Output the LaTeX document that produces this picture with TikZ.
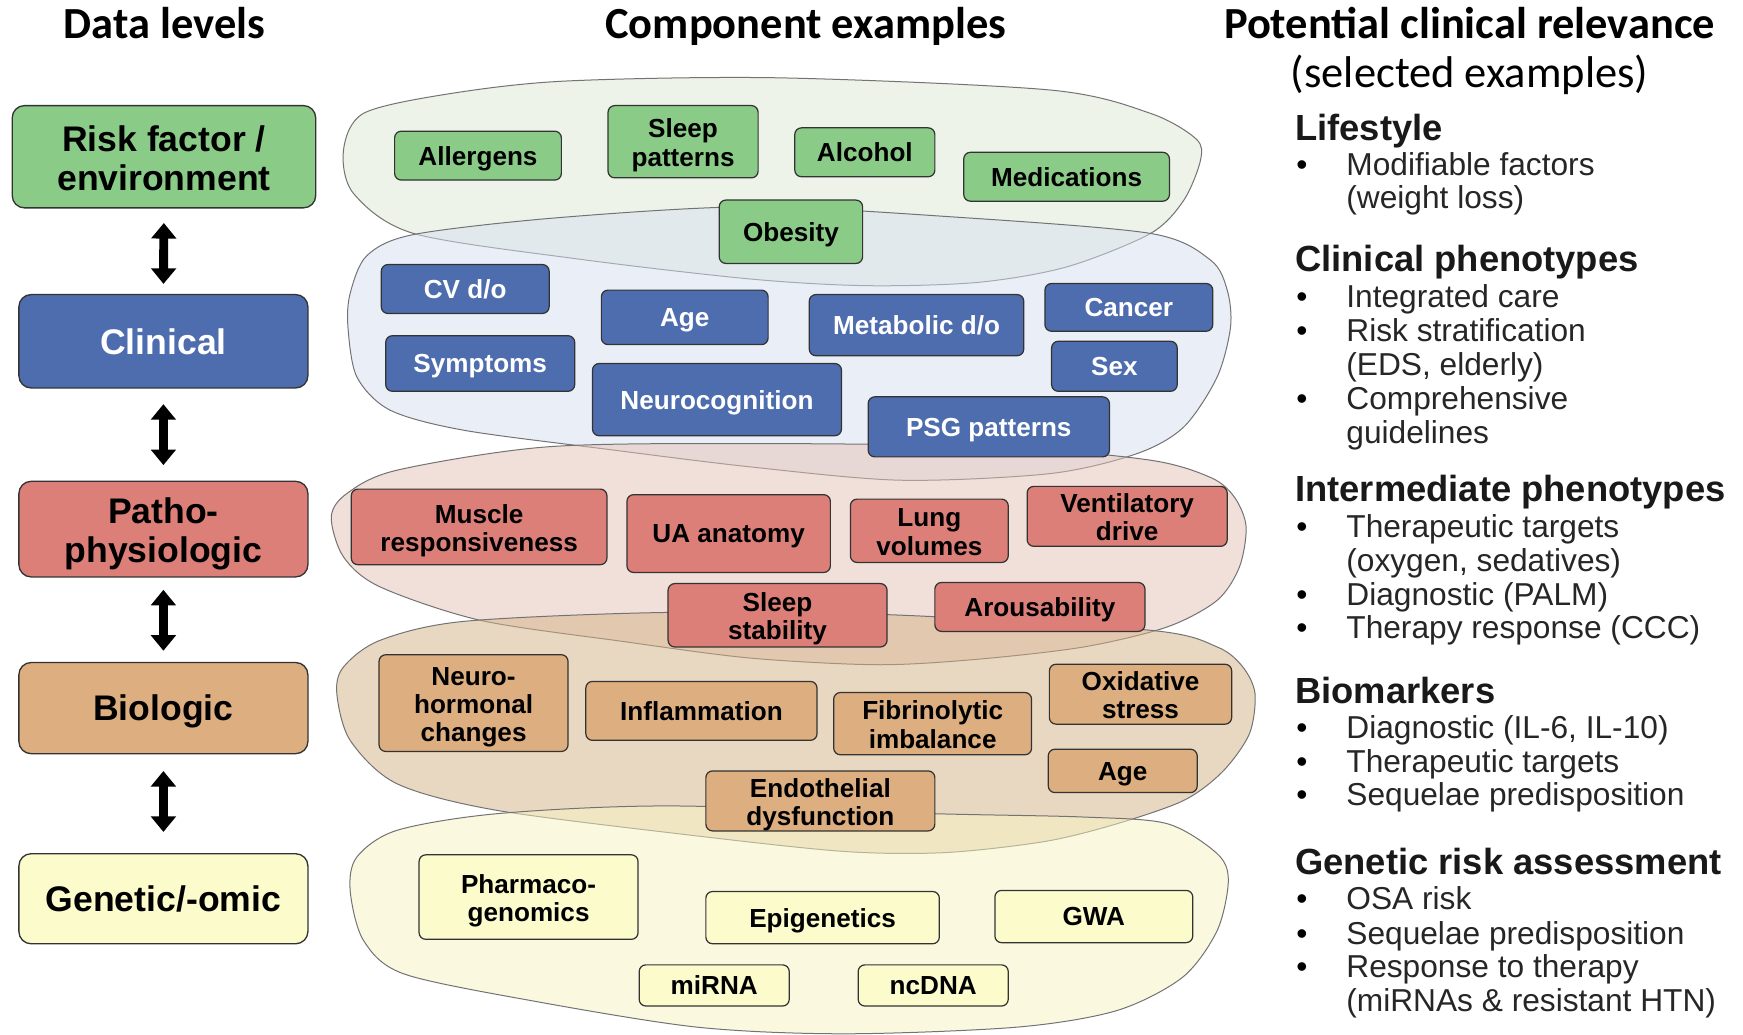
\documentclass[tikz,border=0pt]{standalone}
\usepackage{fontspec}
\setmainfont{Liberation Sans}
\newfontfamily\calfont{Carlito}
\usetikzlibrary{arrows.meta}

% colours of the five data levels
\definecolor{gbox}{HTML}{8BCB88}
\definecolor{bbox}{HTML}{4E6DAE}
\definecolor{rbox}{HTML}{DC7F78}
\definecolor{tbox}{HTML}{DCAE80}
\definecolor{ybox}{HTML}{FBFBCB}
% translucent backdrops behind the component examples
\definecolor{gblob}{HTML}{DDE9D3}
\definecolor{bblob}{HTML}{D7E1F1}
\definecolor{rblob}{HTML}{E5C1B5}
\definecolor{tblob}{HTML}{D5B385}
\definecolor{yblob}{HTML}{F7F5C3}
\definecolor{edge}{HTML}{333333}

\newcommand\lvlfont{\fontsize{32}{35}\selectfont\bfseries}
\newcommand\cmpfont{\fontsize{23.5}{25.5}\selectfont\bfseries}
\newcommand\colhead{\fontsize{40}{44}\selectfont\calfont\bfseries}
\newcommand\colsub{\fontsize{40}{44}\selectfont\calfont}
\newcommand\relhead{\fontsize{32.7}{36}\selectfont\bfseries}
\newcommand\reltext{\fontsize{28.5}{31}\selectfont}
% invisible struts so that labels sit centred on their capitals
\newcommand\lowstrut{\rule[-0.21em]{0pt}{0.21em}}
\newcommand\highstrut{\rule{0pt}{0.93em}}
\newcommand\topstrut{\rule{0pt}{1em}}

% component box: style, name, x1, y1, x2, y2, text
\newcommand\cb[7]{\node[cmp,#1,minimum width={#5-#3},minimum height={#6-#4}] (#2) at ({(#3+#5)/2},{(#4+#6)/2}) {#7};}
% right column: heading, bulleted line, continuation line
\newcommand\rh[3]{\node[anchor=base west,inner sep=0pt,font=\relhead,text=black!90] (#1) at (1165,#2+3) {#3};}
\newcommand\ri[3]{\node[anchor=base west,inner sep=0pt,font=\reltext] (#1b) at (1166,#2+3) {\textbullet};
  \node[anchor=base west,inner sep=0pt,font=\reltext,text=black!85] (#1) at (1211,#2+3) {#3};}
\newcommand\rc[3]{\node[anchor=base west,inner sep=0pt,font=\reltext,text=black!85] (#1) at (1211,#2+3) {#3};}

\begin{document}
\begin{tikzpicture}[x=1pt,y=-1pt,
  blob/.style={draw=black!55,line width=0.9pt,fill opacity=0.5},
  lvl/.style={draw=edge,line width=1.2pt,rounded corners=11pt,align=center,inner sep=0pt,font=\lvlfont,
    execute at begin node=\highstrut,execute at end node=\lowstrut},
  cmp/.style={draw=edge,line width=1.1pt,rounded corners=6pt,align=center,inner sep=0pt,font=\cmpfont,
    execute at begin node=\highstrut,execute at end node=\lowstrut},
  gc/.style={fill=gbox,text=black},
  bc/.style={fill=bbox,text=white},
  rc/.style={fill=rbox,text=black},
  tc/.style={fill=tbox,text=black},
  yc/.style={fill=ybox,text=black},
  dblarrow/.style={line width=8pt,{Triangle[width=22pt,length=14pt]}-{Triangle[width=22pt,length=14pt]}}]

\useasboundingbox (0,0) rectangle (1568,931);
\fill[white] (0,0) rectangle (1568,931);

% column headings
\node[anchor=base,inner sep=0pt,font=\colhead] (hdata) at (148,35) {Data levels};
\node[anchor=base,inner sep=0pt,font=\colhead] (hcomp) at (725,35) {Component examples};
\node[anchor=base,inner sep=0pt,font=\colhead] (hrel) at (1322,35) {Potential clinical relevance};
\node[anchor=base,inner sep=0pt,font=\colsub] (hsel) at (1322,79) {(selected examples)};

% data level boxes
\node[lvl,fill=gbox,minimum width=273,minimum height=92] (rf) at (147.5,141) {\topstrut Risk factor /\\environment};
\node[lvl,fill=bbox,text=white,minimum width=260,minimum height=84] (cl) at (147,307) {Clinical};
\node[lvl,fill=rbox,minimum width=260,minimum height=86] (pp) at (147,476) {\topstrut Patho-\\physiologic};
\node[lvl,fill=tbox,minimum width=260,minimum height=82] (bi) at (147,637) {Biologic};
\node[lvl,fill=ybox,minimum width=260,minimum height=81] (ge) at (147,808.5) {Genetic/-omic};

% links between levels
\draw[dblarrow,shorten <=13pt,shorten >=9pt] (rf.south) -- (cl.north);
\draw[dblarrow,shorten <=14pt,shorten >=14pt] (cl.south) -- (pp.north);
\draw[dblarrow,shorten <=11pt,shorten >=10pt] (pp.south) -- (bi.north);
\draw[dblarrow,shorten <=15pt,shorten >=19pt] (bi.south) -- (ge.north);

% overlapping backdrops, one per level
\filldraw[blob,fill=gblob] plot[smooth cycle,tension=0.5] coordinates {
  (309,135) (318,174) (372,210) (520,233) (675,251) (780,257) (880,254) (960,240)
  (1035,210) (1065,180) (1080,144) (1076,125) (1035,102) (945,81) (700,70)
  (507,73) (400,85) (327,102)};
\filldraw[blob,fill=bblob] plot[smooth cycle,tension=0.5] coordinates {
  (315,264) (313,294) (321,339) (351,369) (417,387) (545,404) (675,420)
  (810,432) (945,426) (1023,408) (1065,384) (1095,339) (1107,294) (1104,261)
  (1089,234) (1035,210) (855,195) (675,186) (500,196) (372,211) (330,230)};
\filldraw[blob,fill=rblob] plot[smooth cycle,tension=0.5] coordinates {
  (298,465) (309,501) (342,528) (432,558) (560,577) (675,592) (790,598) (880,593)
  (975,582) (1050,564) (1095,540) (1115,510) (1121,474) (1111,448) (1090,430)
  (1035,414) (900,402) (675,399) (492,402) (357,423) (312,444)};
\filldraw[blob,fill=tblob] plot[smooth cycle,tension=0.5] coordinates {
  (303,624) (315,666) (357,705) (447,729) (627,752) (760,766) (850,767)
  (940,757) (1005,741) (1065,720) (1100,694) (1124,660) (1129,624) (1118,600)
  (1095,582) (1035,567) (800,553) (597,551) (417,559) (342,576) (309,600)};
\filldraw[blob,fill=yblob] plot[smooth cycle,tension=0.5] coordinates {
  (315,801) (327,846) (363,876) (477,900) (627,924) (760,930) (915,924)
  (1005,909) (1064,879) (1095,837) (1105,792) (1095,768) (1050,741) (975,735)
  (840,732) (600,725) (447,732) (357,747) (321,771)};

% risk factor / environment examples
\cb{gc}{al}{355}{118}{505}{162}{Allergens}
\cb{gc}{sp}{547}{95}{682}{160}{\topstrut Sleep\\patterns}
\cb{gc}{alc}{715}{115}{841}{159}{Alcohol}
\cb{gc}{med}{867}{137}{1052}{181}{Medications}
\cb{gc}{ob}{647}{180}{776}{237}{Obesity}

% clinical examples
\cb{bc}{cv}{343}{238}{494}{282}{CV d/o}
\cb{bc}{agec}{541}{261}{691}{310}{Age}
\cb{bc}{met}{728}{265}{921}{320}{Metabolic d/o}
\cb{bc}{can}{940}{255}{1091}{298}{Cancer}
\cb{bc}{sym}{347}{302}{517}{352}{Symptoms}
\cb{bc}{sex}{946}{307}{1059}{352}{Sex}
\cb{bc}{neu}{533}{327}{757}{392}{Neurocognition}
\cb{bc}{psg}{781}{357}{998}{411}{PSG patterns}

% pathophysiologic examples
\cb{rc}{mus}{316}{440}{546}{508}{\topstrut Muscle\\responsiveness}
\cb{rc}{ua}{564}{445}{747}{515}{UA anatomy}
\cb{rc}{lung}{765}{449}{907}{506}{\topstrut Lung\\volumes}
\cb{rc}{vent}{924}{438}{1104}{491}{\topstrut Ventilatory\\drive}
\cb{rc}{sst}{601}{525}{798}{582}{\topstrut Sleep\\stability}
\cb{rc}{aro}{841}{524}{1030}{568}{Arousability}

% biologic examples
\cb{tc}{nh}{341}{589}{511}{676}{\topstrut Neuro-\\hormonal\\changes}
\cb{tc}{inf}{527}{613}{735}{666}{Inflammation}
\cb{tc}{fib}{750}{623}{928}{679}{\topstrut Fibrinolytic\\imbalance}
\cb{tc}{ox}{944}{598}{1108}{651}{\topstrut Oxidative\\stress}
\cb{tc}{ageb}{943}{674}{1077}{713}{Age}
\cb{tc}{endo}{635}{694}{841}{747}{\topstrut Endothelial\\dysfunction}

% genetic / omic examples
\cb{yc}{ph}{377}{769}{574}{845}{\topstrut Pharmaco-\\genomics}
\cb{yc}{epi}{635}{802}{845}{849}{Epigenetics}
\cb{yc}{gwa}{895}{801}{1073}{848}{GWA}
\cb{yc}{mir}{575}{868}{710}{905}{miRNA}
\cb{yc}{nc}{772}{868}{907}{905}{ncDNA}

% clinical relevance column
\rh{life}{123}{Lifestyle}
\ri{l1}{154.5}{Modifiable factors}
\rc{l1c}{184.5}{(weight loss)}

\rh{clph}{241}{Clinical phenotypes}
\ri{c1}{273.5}{Integrated care}
\ri{c2}{304.5}{Risk stratification}
\rc{c2c}{334.5}{(EDS, elderly)}
\ri{c3}{365.5}{Comprehensive}
\rc{c3c}{396}{guidelines}

\rh{inph}{448}{Intermediate phenotypes}
\ri{i1}{480.5}{Therapeutic targets}
\rc{i1c}{511.5}{(oxygen, sedatives)}
\ri{i2}{541.5}{Diagnostic (PALM)}
\ri{i3}{571.5}{Therapy response (CCC)}

\rh{biom}{630}{Biomarkers}
\ri{b1}{661}{Diagnostic (IL-6, IL-10)}
\ri{b2}{692}{Therapeutic targets}
\ri{b3}{722}{Sequelae predisposition}

\rh{gera}{784}{Genetic risk assessment}
\ri{g1}{815.5}{OSA risk}
\ri{g2}{846.5}{Sequelae predisposition}
\ri{g3}{876}{Response to therapy}
\rc{g3c}{906.5}{(miRNAs \& resistant HTN)}

\end{tikzpicture}
\end{document}
